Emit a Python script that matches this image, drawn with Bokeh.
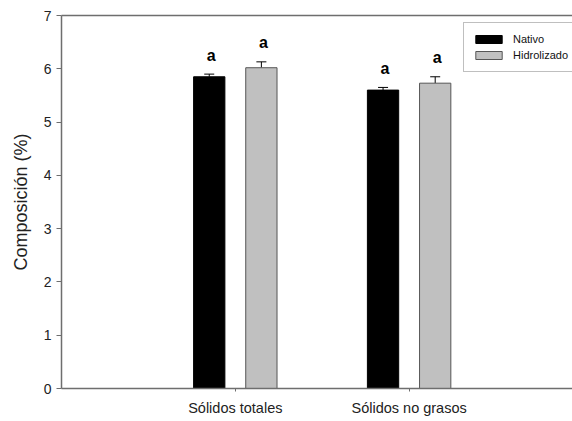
from bokeh.plotting import figure
from bokeh.models import (Range1d, FixedTicker, LinearAxis, Whisker, TeeHead,
                          ColumnDataSource, Legend, LegendItem)
from bokeh.core.properties import value
from bokeh.embed import file_html
from bokeh.resources import INLINE

categories = ["Sólidos totales", "Sólidos no grasos"]
series_names = ["Nativo", "Hidrolizado"]
nativo = [5.85, 5.60]
nativo_err = [0.05, 0.05]
hidrolizado = [6.02, 5.73]
hidrolizado_err = [0.11, 0.12]
letters_nativo = ["a", "a"]
letters_hidro = ["a", "a"]
y_ticks = [0, 1, 2, 3, 4, 5, 6, 7]

FONT = "Liberation Sans"
AXIS_COLOR = "#6e6e6e"

p = figure(width=572, height=421, output_backend="svg", toolbar_location=None,
           x_range=Range1d(0, 2.94), y_range=Range1d(0, 7),
           min_border_left=61, min_border_right=0, min_border_top=15,
           min_border_bottom=33)
p.outline_line_color = None
p.grid.visible = False
p.background_fill_color = "white"

xpos = [i + 1 for i in range(len(categories))]
offset = 0.15
width = 0.18

src_n = ColumnDataSource(dict(x=[x - offset for x in xpos], top=nativo,
                              up=[v + e for v, e in zip(nativo, nativo_err)],
                              lab=letters_nativo))
src_h = ColumnDataSource(dict(x=[x + offset for x in xpos], top=hidrolizado,
                              up=[v + e for v, e in zip(hidrolizado, hidrolizado_err)],
                              lab=letters_hidro))

r_n = p.vbar(x="x", top="top", width=width, bottom=0, source=src_n,
             fill_color="black", line_color="black", line_width=1)
r_h = p.vbar(x="x", top="top", width=width, bottom=0, source=src_h,
             fill_color="#c0c0c0", line_color="#555555", line_width=1)

for src in (src_n, src_h):
    w = Whisker(base="x", lower="top", upper="up", source=src,
                line_color="black", line_width=1,
                upper_head=TeeHead(size=10, line_color="black", line_width=1),
                lower_head=None)
    p.add_layout(w)
    p.text(x="x", y="up", text="lab", source=src, x_offset=2, y_offset=-19,
           text_font=value(FONT), text_font_style="bold", text_font_size="16px",
           text_align="center", text_baseline="alphabetic", text_color="black")

# axes
p.xaxis.ticker = FixedTicker(ticks=xpos)
p.xaxis.major_label_overrides = {x: c for x, c in zip(xpos, categories)}
p.yaxis.ticker = FixedTicker(ticks=y_ticks)
for ax in (p.xaxis[0], p.yaxis[0]):
    ax.axis_line_color = AXIS_COLOR
    ax.axis_line_width = 1.5
    ax.major_tick_line_color = AXIS_COLOR
    ax.major_tick_line_width = 1
    ax.major_tick_in = 0
    ax.minor_tick_line_color = None
    ax.major_label_text_font = FONT
    ax.major_label_text_color = "#222222"
    ax.axis_label_text_font = FONT
    ax.axis_label_text_font_style = "normal"
    ax.axis_label_text_color = "#222222"
p.yaxis.major_tick_out = 5
p.xaxis.major_tick_out = 3
p.yaxis.major_label_text_font_size = "14px"
p.xaxis.major_label_text_font_size = "14.5px"
p.yaxis.major_label_standoff = 5
p.xaxis.major_label_standoff = 8
p.yaxis.axis_label = "Composición (%)"
p.yaxis.axis_label_text_font_size = "18px"
p.yaxis.axis_label_standoff = 10

top_ax = LinearAxis(axis_line_color=AXIS_COLOR, axis_line_width=1.5,
                    major_tick_line_color=None, minor_tick_line_color=None,
                    major_label_text_font_size="0px", major_label_text_color=None)
top_ax.ticker = FixedTicker(ticks=[])
p.add_layout(top_ax, "above")

legend = Legend(items=[LegendItem(label=series_names[0], renderers=[r_n]),
                       LegendItem(label=series_names[1], renderers=[r_h])],
                location=(402, 316), orientation="vertical",
                label_text_font=FONT, label_text_font_size="11px",
                label_text_color="#111111",
                glyph_width=33, glyph_height=10, label_height=16,
                label_standoff=8, spacing=0, padding=8, margin=0,
                border_line_color="#808080", border_line_width=1,
                background_fill_alpha=1.0)
p.add_layout(legend, "center")

open("out.html", "w").write(file_html(p, INLINE))
